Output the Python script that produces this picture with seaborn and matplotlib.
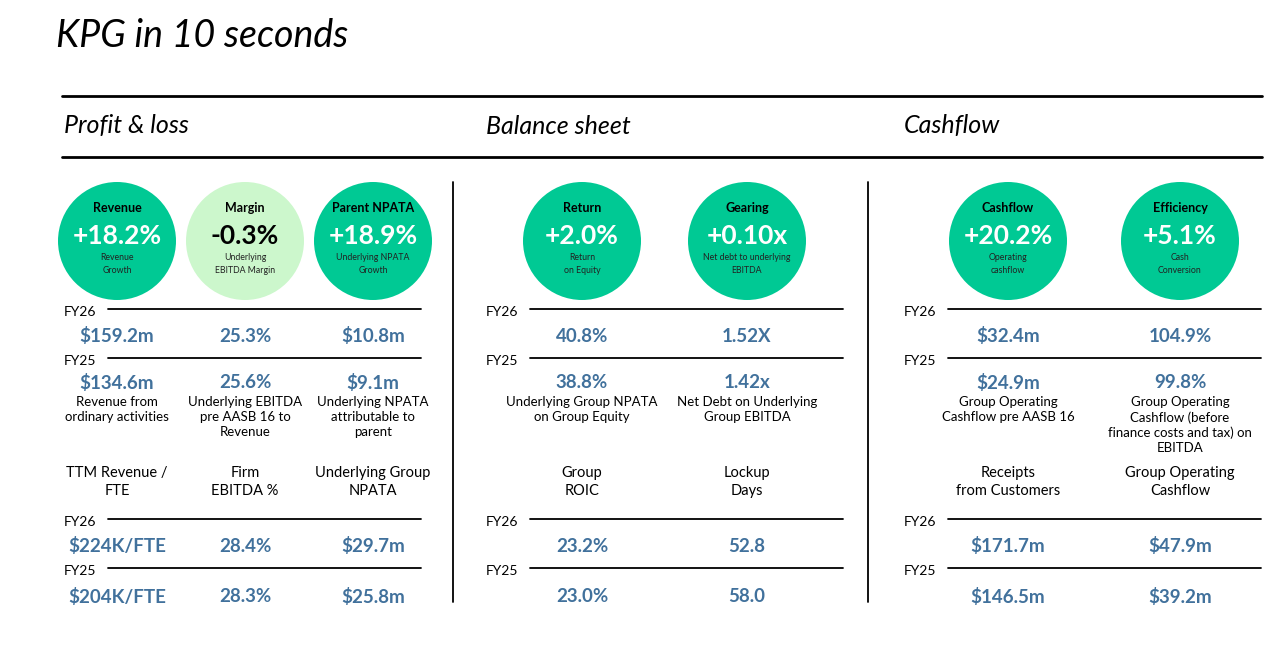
import matplotlib
matplotlib.use("Agg")
import matplotlib.pyplot as plt
import pandas as pd
import seaborn as sns

# data
section_titles = ["Profit & loss", "Balance sheet", "Cashflow"]
kpi_titles = ["Revenue", "Margin", "Parent NPATA", "Return", "Gearing", "Cashflow", "Efficiency"]
kpi_values = ["+18.2%", "-0.3%", "+18.9%", "+2.0%", "+0.10x", "+20.2%", "+5.1%"]
kpi_notes = ["Revenue\nGrowth", "Underlying\nEBITDA Margin", "Underlying NPATA\nGrowth",
             "Return\non Equity", "Net debt to underlying\nEBITDA", "Operating\ncashflow",
             "Cash\nConversion"]
kpi_tone = ["up", "down", "up", "up", "up", "up", "up"]

fy26_top = ["$159.2m", "25.3%", "$10.8m", "40.8%", "1.52X", "$32.4m", "104.9%"]
fy25_top = ["$134.6m", "25.6%", "$9.1m", "38.8%", "1.42x", "$24.9m", "99.8%"]
top_desc = ["Revenue from\nordinary activities", "Underlying EBITDA\npre AASB 16 to\nRevenue",
            "Underlying NPATA\nattributable to\nparent", "Underlying Group NPATA\non Group Equity",
            "Net Debt on Underlying\nGroup EBITDA", "Group Operating\nCashflow pre AASB 16",
            "Group Operating\nCashflow (before\nfinance costs and tax) on\nEBITDA"]

bottom_names = ["TTM Revenue /\nFTE", "Firm\nEBITDA %", "Underlying Group\nNPATA", "Group\nROIC",
                "Lockup\nDays", "Receipts\nfrom Customers", "Group Operating\nCashflow"]
fy26_bottom = ["$224K/FTE", "28.4%", "$29.7m", "23.2%", "52.8", "$171.7m", "$47.9m"]
fy25_bottom = ["$204K/FTE", "28.3%", "$25.8m", "23.0%", "58.0", "$146.5m", "$39.2m"]

# layout
col_x = [117, 245, 373, 582, 747, 1008, 1180]
sec_x = [64, 486, 904]
line_span = [(108, 421), (530, 843), (948, 1261)]
circle_y = 241
circle_d = 118

sns.set_theme(style="white")
plt.rcParams["font.family"] = ["Lato", "DejaVu Sans"]
plt.rcParams["text.color"] = "black"

GREEN = "#00C994"
LIGHT = "#CCF7CC"
BLUE = "#41719C"

fig = plt.figure(figsize=(12.86, 6.58), dpi=100)
ax = fig.add_axes([0, 0, 1, 1])

# circles
df = pd.DataFrame({"x": col_x, "y": [circle_y] * len(col_x), "tone": kpi_tone})
size_pt = circle_d * 72 / 100
sns.scatterplot(data=df, x="x", y="y", hue="tone", palette={"up": GREEN, "down": LIGHT},
                s=size_pt ** 2, linewidth=0, legend=False, ax=ax, zorder=2)
ax.set_xlim(0, 1286)
ax.set_ylim(658, 0)
ax.axis("off")

for x, t, v, n, tone in zip(col_x, kpi_titles, kpi_values, kpi_notes, kpi_tone):
    vc = "white" if tone == "up" else "black"
    ax.text(x, 208, t, ha="center", va="center", fontsize=9, fontweight="bold", color="black", zorder=3)
    ax.text(x, 236, v, ha="center", va="center", fontsize=19, fontweight="bold", color=vc, zorder=3)
    ax.text(x, 264, n, ha="center", va="center", fontsize=6.3, color="#222222",
            linespacing=1.5, zorder=3)

# title and header rules
ax.text(56, 36, "KPG in 10 seconds", fontsize=27, style="italic", va="center", ha="left")
ax.plot([62, 1262], [96, 96], color="black", lw=2)
ax.plot([62, 1262], [157, 157], color="black", lw=2)
for sx, st in zip(sec_x, section_titles):
    ax.text(sx, 126, st, fontsize=18, style="italic", va="center", ha="left")

# vertical separators
for vx in [453, 868]:
    ax.plot([vx, vx], [182, 602], color="black", lw=1.3)

# FY labels and rules
for sx, (l0, l1) in zip(sec_x, line_span):
    for ly, lab in [(309, "FY26"), (358, "FY25"), (519, "FY26"), (568, "FY25")]:
        ax.plot([l0, l1], [ly, ly], color="black", lw=1.3)
        ax.text(sx, ly + 3, lab, fontsize=10, va="center", ha="left")

for x, a, b, d, nm, c, e in zip(col_x, fy26_top, fy25_top, top_desc, bottom_names,
                                fy26_bottom, fy25_bottom):
    ax.text(x, 336, a, ha="center", va="center", fontsize=13.5, fontweight="bold", color=BLUE)
    ax.text(x, 383, b, ha="center", va="center", fontsize=13.5, fontweight="bold", color=BLUE)
    ax.text(x, 396, d, ha="center", va="top", fontsize=9.5, linespacing=1.3)
    ax.text(x, 482, nm, ha="center", va="center", fontsize=10.5, linespacing=1.4)
    ax.text(x, 546, c, ha="center", va="center", fontsize=13.5, fontweight="bold", color=BLUE)
    ax.text(x, 597, e, ha="center", va="center", fontsize=13.5, fontweight="bold", color=BLUE)

fig.savefig("out.png", dpi=100, facecolor="white")
